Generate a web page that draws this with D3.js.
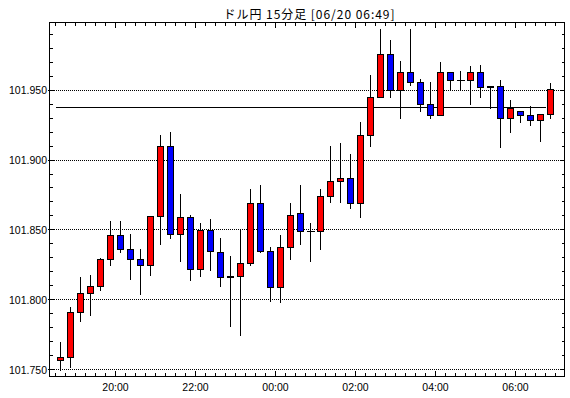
<!DOCTYPE html>
<html><head><meta charset="utf-8">
<script src="https://cdn.jsdelivr.net/npm/d3@7"></script>
<style>body{margin:0;background:#fff}svg{display:block}line,rect{shape-rendering:crispEdges}</style>
</head><body>
<svg id="c" width="570" height="398"></svg>
<script>
const title = "ドル円 15分足 [06/20 06:49]";
const times = ["18:30","18:45","19:00","19:15","19:30","19:45","20:00","20:15","20:30","20:45",
  "21:00","21:15","21:30","21:45","22:00","22:15","22:30","22:45","23:00","23:15",
  "23:30","23:45","00:00","00:15","00:30","00:45","01:00","01:15","01:30","01:45",
  "02:00","02:15","02:30","02:45","03:00","03:15","03:30","03:45","04:00","04:15",
  "04:30","04:45","05:00","05:15","05:30","05:45","06:00","06:15","06:30","06:45"];
const open = [101.757,101.759,101.791,101.805,101.810,101.829,101.846,101.836,101.829,101.825,
  101.860,101.910,101.847,101.859,101.822,101.850,101.834,101.816,101.817,101.826,
  101.869,101.835,101.809,101.838,101.862,101.849,101.849,101.874,101.885,101.887,
  101.869,101.918,101.945,101.976,101.950,101.963,101.956,101.940,101.932,101.963,
  101.957,101.957,101.963,101.952,101.953,101.930,101.935,101.932,101.929,101.933];
const high = [101.770,101.795,101.816,101.818,101.830,101.856,101.856,101.847,101.836,101.860,
  101.918,101.920,101.876,101.861,101.855,101.858,101.844,101.831,101.850,101.879,
  101.882,101.838,101.846,101.869,101.882,101.855,101.879,101.910,101.912,101.904,
  101.927,101.961,101.994,101.986,101.971,101.994,101.958,101.956,101.970,101.963,
  101.964,101.967,101.968,101.953,101.957,101.943,101.935,101.939,101.933,101.955];
const low = [101.750,101.752,101.785,101.789,101.807,101.825,101.834,101.815,101.804,101.818,
  101.840,101.844,101.828,101.814,101.817,101.821,101.810,101.781,101.775,101.825,
  101.834,101.799,101.798,101.829,101.840,101.828,101.836,101.870,101.870,101.866,
  101.859,101.910,101.945,101.945,101.930,101.954,101.935,101.930,101.932,101.950,
  101.950,101.940,101.945,101.937,101.909,101.920,101.927,101.925,101.914,101.930];
const close = [101.759,101.791,101.805,101.810,101.829,101.846,101.836,101.829,101.825,101.860,
  101.910,101.847,101.859,101.822,101.850,101.835,101.816,101.817,101.826,101.869,
  101.835,101.809,101.838,101.861,101.849,101.849,101.874,101.885,101.887,101.869,
  101.918,101.945,101.976,101.950,101.963,101.956,101.940,101.932,101.963,101.957,
  101.957,101.963,101.952,101.953,101.930,101.937,101.932,101.929,101.933,101.951];
const yTickLabels = ["101.750","101.800","101.850","101.900","101.950"];
const xTickLabels = ["20:00","22:00","00:00","02:00","04:00","06:00"];
const refLevel = 101.9377;

function toDate(s){
  const [h,m] = s.split(":").map(Number);
  return h >= 12 ? new Date(Date.UTC(2014,5,19,h,m)) : new Date(Date.UTC(2014,5,20,h,m));
}
const M = 60000;
const L = 49.5, R = 564.5, T = 22.5, B = 376.5;
const x = d3.scaleUtc().domain([toDate("18:21"), new Date(toDate("07:13").getTime()+30000)]).range([L, R]);
const y = d3.scaleLinear().domain([101.745, 101.9985]).range([B, T]);
const px = v => Math.round(v - 0.5) + 0.5;

const svg = d3.select("#c");
svg.append("rect").attr("width",570).attr("height",398).attr("fill","#fff");

svg.append("text").attr("x",309).attr("y",19).attr("text-anchor","middle")
  .attr("font-family","'Noto Sans CJK JP', sans-serif").attr("font-size",12)
  .attr("textLength",171).attr("lengthAdjust","spacing").attr("fill","#000").text(title);

const g = svg.append("g");
yTickLabels.forEach(t => {
  const v = +t, yy = px(y(v));
  g.append("line").attr("x1",L).attr("x2",R).attr("y1",yy).attr("y2",yy)
    .attr("stroke","#000").attr("stroke-dasharray","1,1");
  g.append("line").attr("x1",L-2).attr("x2",L+4).attr("y1",yy).attr("y2",yy).attr("stroke","#000");
  g.append("line").attr("x1",R-4).attr("x2",R).attr("y1",yy).attr("y2",yy).attr("stroke","#000");
  svg.append("text").attr("x",47).attr("y",y(v)+4).attr("text-anchor","end")
    .attr("font-family","'Liberation Sans', Arial, sans-serif").attr("font-size",10.5).text(t);
});
y.ticks(30).filter(v => Math.abs(v*100 - Math.round(v*100)) < 1e-6).forEach(v => {
  if (v < 101.745 || v > 101.998) return;
  const yy = px(y(v));
  g.append("line").attr("x1",L).attr("x2",L+3).attr("y1",yy).attr("y2",yy).attr("stroke","#000");
  g.append("line").attr("x1",R-3).attr("x2",R).attr("y1",yy).attr("y2",yy).attr("stroke","#000");
});

const xt = d3.utcMinute.every(15).range(x.domain()[0], x.domain()[1]);
const majorSet = new Set(xTickLabels.map(s => toDate(s).getTime()));
xt.forEach(t => {
  const xx = px(x(t));
  const len = majorSet.has(t.getTime()) ? 6 : 4;
  g.append("line").attr("x1",xx).attr("x2",xx).attr("y1",B).attr("y2",B-len).attr("stroke","#000");
  g.append("line").attr("x1",xx).attr("x2",xx).attr("y1",T).attr("y2",T+len-1).attr("stroke","#000");
});
xTickLabels.forEach(s => {
  svg.append("text").attr("x",x(toDate(s))).attr("y",391).attr("text-anchor","middle")
    .attr("font-family","'Liberation Sans', Arial, sans-serif").attr("font-size",10.5).text(s);
});

const ry = px(y(refLevel));
svg.append("line").attr("x1",px(x(toDate(times[0])))).attr("x2",px(x(toDate(times[times.length-1]))))
  .attr("y1",ry).attr("y2",ry).attr("stroke","#000").attr("stroke-width",1);

const cg = svg.append("g");
times.forEach((s,i) => {
  const cx = px(x(new Date(toDate(s).getTime() + 7.5*M)));
  cg.append("line").attr("x1",cx).attr("x2",cx).attr("y1",Math.round(y(high[i]))).attr("y2",Math.round(y(low[i]))+1)
    .attr("stroke","#000").attr("stroke-width",1);
  const o = open[i], c = close[i];
  if (o === c) {
    const yy = px(y(o));
    cg.append("line").attr("x1",cx-4).attr("x2",cx+4).attr("y1",yy).attr("y2",yy).attr("stroke","#000");
  } else {
    const top = Math.round(y(Math.max(o,c))), bot = Math.round(y(Math.min(o,c)));
    cg.append("rect").attr("x",cx-3).attr("y",top+0.5).attr("width",6).attr("height",Math.max(1,bot-top))
      .attr("fill", c > o ? "#ff0000" : "#0000ff").attr("stroke","#000").attr("stroke-width",1);
  }
});

svg.append("rect").attr("x",L).attr("y",T).attr("width",R-L).attr("height",B-T)
  .attr("fill","none").attr("stroke","#000").attr("stroke-width",1);
</script>
</body></html>
